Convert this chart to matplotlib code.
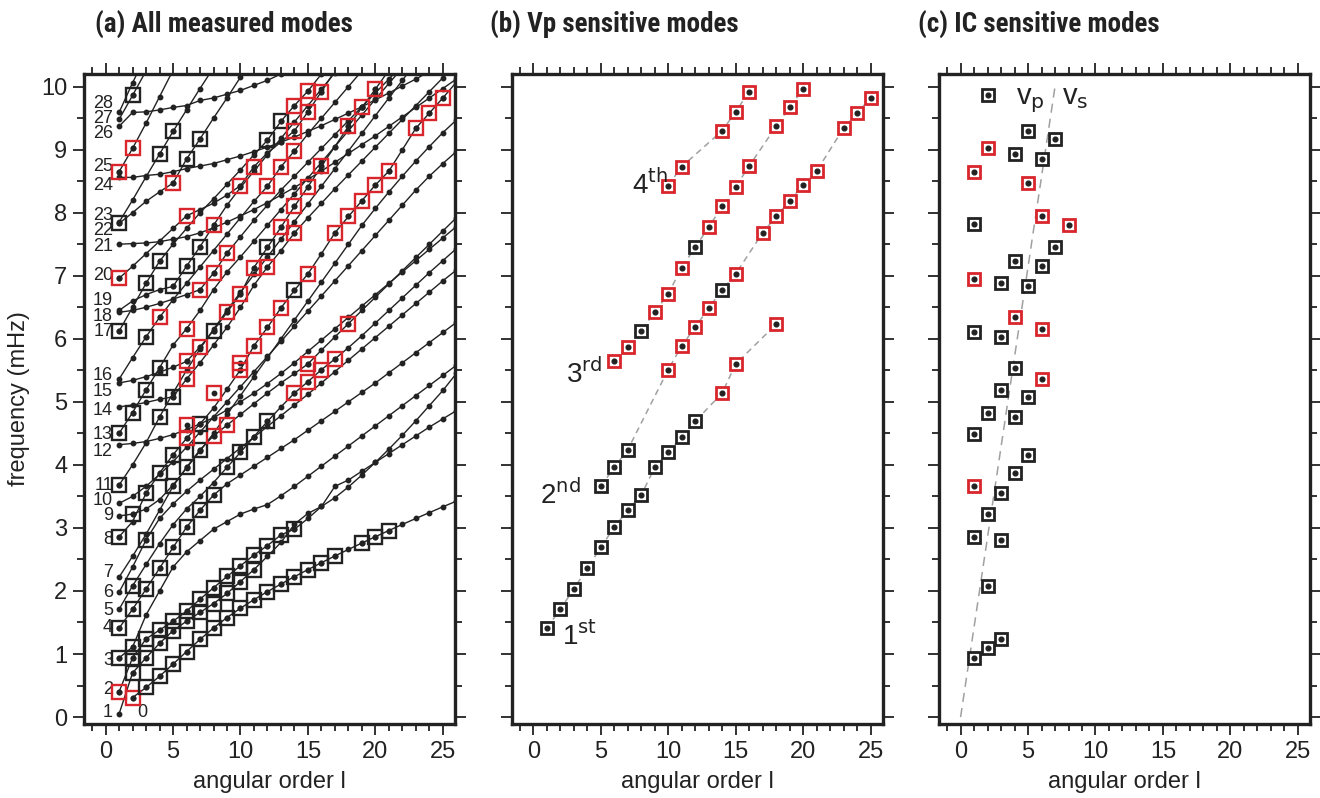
import matplotlib
matplotlib.use("Agg")
import matplotlib.pyplot as plt
from matplotlib.ticker import MultipleLocator

plt.rcParams['font.family'] = ['Liberation Sans', 'DejaVu Sans']

RED = '#d8262c'
BLK = '#222222'
GRAY = '#a0a0a0'

# ---- panel (a): mode branches (first l, then one frequency per l, mHz)
branch_l0 = [2] + [1] * 28
branch_f = [
    [0.309, 0.469, 0.647, 0.840, 1.038, 1.232, 1.413, 1.578, 1.727, 1.862, 1.990, 2.110, 2.227,
     2.339, 2.449, 2.555, 2.659, 2.761, 2.861, 2.959, 3.056, 3.150, 3.243, 3.335, 3.425],
    [0.05, 0.70, 0.94, 1.17, 1.37, 1.52, 1.66, 1.80, 1.96, 2.15, 2.34, 2.55, 2.77, 3.06, 3.23,
     3.34, 3.48, 3.65, 3.84, 4.04, 4.25, 4.47, 4.70, 4.94, 5.18, 5.45],
    [0.40, 0.94, 1.24, 1.38, 1.52, 1.68, 1.87, 2.05, 2.23, 2.40, 2.57, 2.72, 2.89, 2.98, 3.15,
     3.34, 3.66, 3.76, 3.90, 4.04, 4.18, 4.32, 4.46, 4.60, 4.73, 4.86],
    [0.94, 1.11, 1.62, 2.00, 2.38, 2.62, 2.80, 2.98, 3.10, 3.22, 3.30, 3.37, 3.51, 3.66, 3.82,
     3.98, 4.14, 4.30, 4.46, 4.62, 4.78, 4.94, 5.10, 5.26, 5.42, 5.58],
    [1.41, 1.71, 2.03, 2.36, 2.69, 3.01, 3.28, 3.52, 3.70, 3.84, 3.98, 4.12, 4.26, 4.40, 4.55,
     4.70, 4.85, 5.00, 5.15, 5.30, 5.46, 5.62, 5.78, 5.94, 6.10, 6.26],
    [1.71, 2.08, 2.42, 2.75, 3.05, 3.30, 3.50, 3.72, 3.96, 4.20, 4.45, 4.69, 4.92, 5.14, 5.32,
     5.51, 5.68, 5.86, 6.05, 6.25, 6.45, 6.65, 6.85, 7.05, 7.24, 7.43],
    [1.98, 2.38, 2.81, 3.15, 3.38, 3.58, 3.76, 3.93, 4.10, 4.27, 4.44, 4.61, 4.78, 4.95, 5.12,
     5.30, 5.48, 5.66, 5.84, 6.02, 6.20, 6.38, 6.56, 6.74, 6.92, 7.09],
    [2.22, 2.55, 2.90, 3.28, 3.66, 3.96, 4.24, 4.46, 4.63, 4.80, 4.97, 5.14, 5.30, 5.45, 5.60,
     5.82, 6.03, 6.24, 6.45, 6.66, 6.87, 7.08, 7.29, 7.50, 7.71, 7.92],
    [2.86, 3.10, 3.55, 3.87, 4.16, 4.42, 4.65, 4.90, 5.20, 5.51, 5.89, 6.18, 6.49, 6.77, 7.03,
     7.35, 7.68, 7.94, 8.19, 8.44, 8.66, 9.00, 9.34, 9.58, 9.82, 10.07],
    [3.19, 3.22, 3.30, 3.45, 3.68, 3.95, 4.22, 4.50, 4.80, 5.10, 5.40, 5.70, 6.00, 6.30, 6.60,
     6.90, 7.20, 7.50, 7.80, 8.07, 8.33, 8.58, 8.82, 9.05, 9.27, 9.47],
    [3.39, 3.50, 3.66, 3.85, 4.05, 4.28, 4.52, 4.76, 5.00, 5.24, 5.48, 5.72, 5.96, 6.20, 6.44,
     6.68, 6.92, 7.16, 7.40, 7.64, 7.88, 8.12, 8.36, 8.58, 8.78, 8.97],
    [3.68, 4.00, 4.35, 4.76, 5.14, 5.50, 5.84, 6.15, 6.45, 6.74, 7.02, 7.30, 7.58, 7.86, 8.14,
     8.42, 8.70, 8.98, 9.26, 9.54, 9.82, 10.10, 10.38],
    [4.32, 4.34, 4.37, 4.42, 4.48, 4.56, 4.65, 4.75, 4.87, 5.00, 5.14, 5.29, 5.45, 5.62, 5.80,
     5.98, 6.16, 6.34, 6.52, 6.70, 6.88, 7.06, 7.24, 7.42, 7.60, 7.78],
    [4.50, 4.83, 5.19, 5.54, 5.90, 6.16, 6.45, 6.78, 7.06, 7.30, 7.55, 7.80, 8.05, 8.30, 8.55,
     8.80, 9.05, 9.30, 9.55, 9.80, 10.05, 10.30],
    [4.92, 4.95, 4.99, 5.04, 5.08, 5.36, 5.62, 5.90, 6.18, 6.50, 6.85, 7.14, 7.40, 7.68, 7.92,
     8.15, 8.38, 8.60, 8.82, 9.04, 9.26, 9.48, 9.70, 9.92, 10.14, 10.36],
    [5.30, 5.34, 5.40, 5.47, 5.55, 5.64, 5.87, 6.13, 6.42, 6.71, 7.13, 7.45, 7.77, 8.10, 8.41,
     8.74, 9.05, 9.37, 9.67, 9.96, 10.26],
    [5.36, 5.70, 6.03, 6.34, 6.62, 6.88, 7.14, 7.40, 7.66, 7.92, 8.18, 8.42, 8.73, 8.98, 9.25,
     9.50, 9.75, 10.00, 10.25],
    [6.12, 6.50, 6.88, 7.23, 7.50, 7.75, 8.00, 8.22, 8.45, 8.68, 8.92, 9.15, 9.45, 9.70, 9.93,
     10.20],
    [6.42, 6.45, 6.50, 6.56, 6.63, 6.70, 6.78, 7.04, 7.36, 7.62, 7.88, 8.12, 8.36, 8.58, 8.80,
     9.02, 9.24, 9.46, 9.68, 9.90, 10.12, 10.34],
    [6.45, 6.60, 6.70, 6.78, 6.83, 7.15, 7.46, 7.80, 8.12, 8.40, 8.66, 8.92, 9.18, 9.44, 9.70,
     9.96, 10.22],
    [6.96, 7.15, 7.35, 7.55, 7.75, 7.95, 8.05, 8.15, 8.28, 8.43, 8.73, 8.95, 9.12, 9.30, 9.60,
     9.92, 10.25],
    [7.50, 7.51, 7.52, 7.54, 7.58, 7.62, 7.68, 7.76, 7.85, 7.95, 8.05, 8.16, 8.28, 8.40, 8.53,
     8.66, 8.80, 8.94, 9.08, 9.22, 9.37, 9.52, 9.67, 9.82, 9.97, 10.12],
    [7.83, 8.00, 8.18, 8.33, 8.47, 8.85, 9.17, 9.50, 9.82, 10.15, 10.45],
    [7.85, 8.20, 8.57, 8.93, 9.29, 9.63, 9.97, 10.30],
    [8.56, 8.56, 8.59, 8.61, 8.65, 8.70, 8.74, 8.78, 8.84, 8.90, 8.97, 9.04, 9.12, 9.20, 9.29,
     9.38, 9.48, 9.58, 9.68, 9.79, 9.90, 10.01, 10.12, 10.24],
    [8.65, 9.02, 9.42, 9.84, 10.26],
    [9.37, 9.59, 9.60, 9.63, 9.67, 9.70, 9.78, 9.82, 9.88, 9.94, 10.02, 10.10, 10.20, 10.30],
    [9.48, 9.86, 10.25],
    [9.59, 10.06, 10.50],
]

# measured modes in (a): l, frequency, red flag
meas_l = [2, 3, 4, 5, 6, 7, 8, 9, 10, 11, 12, 13, 14, 15, 16, 17, 19, 20, 21,
          1, 2, 3, 4, 5, 6, 7, 8, 9, 10, 11,
          2, 3, 4, 5, 6, 7, 8, 9, 10, 11, 12, 13, 14,
          1, 2,
          1, 2, 3, 4, 5, 6, 7, 8,
          2, 9, 10, 11, 12, 14, 15, 16, 17,
          3, 5, 6, 7, 8, 9, 15, 18,
          1, 3, 4, 5, 6, 7, 10, 11, 12, 13, 14, 15, 17, 18, 19, 20, 21, 23, 24, 25,
          2, 1, 1, 2, 3, 4, 4, 5, 6, 6, 8, 1, 3, 4, 6, 7, 1, 3, 5, 4, 6, 7, 8, 6, 8, 9,
          12, 14, 1, 5, 1, 6, 4, 2, 7, 5, 2, 12, 13, 14, 12, 13, 14, 15, 10,
          6, 7, 8, 9, 10, 11, 12, 13, 14, 15, 16, 18, 19, 20,
          10, 11, 14, 15, 16]
meas_f = [0.309, 0.469, 0.647, 0.840, 1.038, 1.232, 1.413, 1.578, 1.727, 1.862, 1.990, 2.110,
          2.227, 2.339, 2.449, 2.555, 2.761, 2.861, 2.959,
          0.40, 0.70, 0.94, 1.17, 1.37, 1.52, 1.66, 1.80, 1.96, 2.15, 2.34,
          0.94, 1.24, 1.38, 1.52, 1.68, 1.87, 2.05, 2.23, 2.40, 2.57, 2.72, 2.89, 2.98,
          0.94, 1.11,
          1.41, 1.71, 2.03, 2.36, 2.69, 3.01, 3.28, 3.52,
          2.08, 3.96, 4.20, 4.45, 4.69, 5.14, 5.32, 5.51, 5.68,
          2.81, 3.66, 3.96, 4.24, 4.46, 4.63, 5.60, 6.24,
          2.86, 3.55, 3.87, 4.16, 4.42, 4.65, 5.51, 5.89, 6.18, 6.49, 6.77, 7.03, 7.68, 7.94,
          8.19, 8.44, 8.66, 9.34, 9.58, 9.82,
          3.22, 3.68, 4.50, 4.83, 5.19, 5.54, 4.76, 5.08, 5.36, 4.63, 5.14, 6.12, 6.03, 6.34,
          6.16, 6.78, 6.96, 6.88, 6.83, 7.23, 7.15, 7.46, 7.80, 7.95, 7.04, 7.36,
          7.14, 7.68, 7.83, 8.47, 8.65, 8.85, 8.93, 9.02, 9.17, 9.29, 9.86, 8.42, 8.73, 8.98,
          9.15, 9.45, 9.70, 9.93, 5.61,
          5.64, 5.87, 6.13, 6.42, 6.71, 7.13, 7.45, 7.77, 8.10, 8.41, 8.74, 9.37, 9.67, 9.96,
          8.43, 8.73, 9.30, 9.60, 9.92]
meas_red = ([1] + [0] * 18 +
            [1] + [0] * 10 +
            [0] * 13 +
            [0, 0] +
            [0] * 8 +
            [0, 0, 0, 0, 0, 1, 1, 1, 1] +
            [0, 0, 0, 0, 1, 1, 1, 1] +
            [0, 0, 0, 0, 1, 0, 1, 1, 1, 1, 0, 1, 1, 1, 1, 1, 1, 1, 1, 1] +
            [0, 0, 0, 0, 0, 0, 0, 0, 1, 1, 1, 0, 0, 1, 1, 1, 1, 0, 0, 0, 0, 0, 1, 1, 1, 1,
             1, 1, 0, 1, 1, 0, 0, 1, 0, 0, 0, 1, 1, 1, 0, 0, 1, 1, 1] +
            [1, 1, 0, 1, 1, 1, 0, 1, 1, 1, 1, 1, 1, 1] +
            [1, 1, 1, 1, 1])

# overtone labels in (a)
ov_text = [str(n) for n in range(29)]
ov_f = [0.07, 0.08, 0.43, 0.89, 1.42, 1.69, 1.97, 2.29, 2.81, 3.19, 3.43, 3.68, 4.22, 4.48, 4.86,
        5.17, 5.41, 6.12, 6.36, 6.60, 7.00, 7.47, 7.71, 7.95, 8.43, 8.73, 9.25, 9.50, 9.74]

# ---- panel (b): Vp sensitive branches
vp_l = [
    [1, 2, 3, 4, 5, 6, 7, 8, 9, 10, 11, 12, 14, 15, 18],
    [5, 6, 7, 10, 11, 12, 13, 14, 15, 17, 18, 19, 20, 21, 23, 24, 25],
    [6, 7, 8, 9, 10, 11, 12, 13, 14, 15, 16, 18, 19, 20],
    [10, 11, 14, 15, 16],
]
vp_f = [
    [1.41, 1.71, 2.03, 2.36, 2.69, 3.01, 3.28, 3.52, 3.96, 4.20, 4.45, 4.69, 5.14, 5.60, 6.23],
    [3.66, 3.96, 4.24, 5.51, 5.89, 6.18, 6.49, 6.77, 7.03, 7.68, 7.94, 8.19, 8.44, 8.66, 9.34,
     9.58, 9.82],
    [5.64, 5.87, 6.13, 6.42, 6.71, 7.13, 7.45, 7.77, 8.10, 8.41, 8.74, 9.37, 9.67, 9.96],
    [8.43, 8.73, 9.30, 9.60, 9.92],
]
vp_red = [
    [0] * 12 + [1, 1, 1],
    [0, 0, 0, 1, 1, 1, 1, 0, 1, 1, 1, 1, 1, 1, 1, 1, 1],
    [1, 1, 0, 1, 1, 1, 0, 1, 1, 1, 1, 1, 1, 1],
    [1, 1, 1, 1, 1],
]
vp_names = ['1', '2', '3', '4']
vp_sup = ['st', 'nd', 'rd', 'th']
vp_lab_l = [2.1, 0.5, 2.4, 7.3]
vp_lab_f = [1.28, 3.52, 5.44, 8.44]

# ---- panel (c): IC sensitive modes
ic_l = [2, 5, 7, 2, 4, 6, 1, 5, 6, 1, 8, 7, 4, 6, 1, 3, 5, 4, 6, 1, 3, 4, 6, 3, 5,
        2, 4, 1, 5, 4, 1, 3, 2, 1, 3, 2, 3, 2, 1]
ic_f = [9.86, 9.29, 9.17, 9.02, 8.93, 8.85, 8.65, 8.47, 7.95, 7.82, 7.80, 7.46, 7.23, 7.15,
        6.95, 6.88, 6.83, 6.34, 6.16, 6.11, 6.03, 5.54, 5.36, 5.19, 5.08, 4.83, 4.76, 4.49,
        4.16, 3.87, 3.67, 3.55, 3.22, 2.86, 2.81, 2.08, 1.24, 1.10, 0.94]
ic_red = [0, 0, 0, 1, 0, 0, 1, 1, 1, 0, 1, 0, 0, 0, 1, 0, 0, 1, 1, 0, 0, 0, 1, 0, 0,
          0, 0, 0, 0, 0, 1, 0, 0, 0, 0, 0, 0, 0, 0]
ic_line_l = [0, 7]
ic_line_f = [0, 10]

titles = ['(a) All measured modes', '(b) Vp sensitive modes', '(c) IC sensitive modes']
title_x = [95, 490, 918]


def style_axes(ax, left_labels):
    ax.set_xlim(-1.6, 25.9)
    ax.set_ylim(-0.11, 10.2)
    ax.xaxis.set_major_locator(MultipleLocator(5))
    ax.xaxis.set_minor_locator(MultipleLocator(1))
    ax.yaxis.set_major_locator(MultipleLocator(1))
    ax.yaxis.set_minor_locator(MultipleLocator(0.5))
    ax.tick_params(which='both', direction='out', top=True, right=True, width=1.3,
                   labelsize=17, colors=BLK)
    ax.tick_params(which='major', length=8, pad=4)
    ax.tick_params(which='minor', length=5)
    ax.tick_params(labelleft=left_labels)
    for s in ax.spines.values():
        s.set_linewidth(2.4)
        s.set_color(BLK)
    ax.set_xlabel('angular order l', fontsize=17, labelpad=6, color=BLK)


fig = plt.figure(figsize=(13.2, 7.98), dpi=100)
lefts = [84 / 1320, 511.7 / 1320, 939 / 1320]
axs = [fig.add_axes([x0, 1 - 724 / 798, 371 / 1320, 650 / 798]) for x0 in lefts]

# (a)
ax = axs[0]
for l0, fs in zip(branch_l0, branch_f):
    ls = list(range(l0, l0 + len(fs)))
    ax.plot(ls, fs, '-', color=BLK, lw=1.0, zorder=2)
    ax.plot(ls, fs, 'o', color=BLK, ms=3.2, zorder=3)
for l, f, r in zip(meas_l, meas_f, meas_red):
    ax.plot(l, f, 's', mfc='none', mec=RED if r else BLK, ms=9.5, mew=1.7, zorder=4)
    ax.plot(l, f, 'o', color=BLK, ms=3.2, zorder=3)
for t, f in zip(ov_text, ov_f):
    if t == '0':
        ax.text(2.7, f, t, fontsize=13, ha='center', va='center', color=BLK)
    else:
        ax.text(0.55, f, t, fontsize=13, ha='right', va='center', color=BLK)
ax.set_ylabel('frequency (mHz)', fontsize=17, labelpad=8, color=BLK)
style_axes(ax, True)

# (b)
ax = axs[1]
for ls, fs, rs in zip(vp_l, vp_f, vp_red):
    ax.plot(ls, fs, '--', color=GRAY, lw=1.1, dashes=(4, 3), zorder=2)
    for l, f, r in zip(ls, fs, rs):
        ax.plot(l, f, 's', mfc='white', mec=RED if r else BLK, ms=9, mew=2.0, zorder=3)
        ax.plot(l, f, 'o', color=BLK, ms=3.4, zorder=4)
for n, s, x, y in zip(vp_names, vp_sup, vp_lab_l, vp_lab_f):
    ax.text(x, y, n + r'$^{\mathrm{' + s + '}}$', fontsize=20, ha='left', va='center', color=BLK)
style_axes(ax, False)

# (c)
ax = axs[2]
ax.plot(ic_line_l, ic_line_f, '--', color=GRAY, lw=1.1, dashes=(6, 4), zorder=2)
for l, f, r in zip(ic_l, ic_f, ic_red):
    ax.plot(l, f, 's', mfc='white', mec=RED if r else BLK, ms=9, mew=2.0, zorder=3)
    ax.plot(l, f, 'o', color=BLK, ms=3.4, zorder=4)
ax.text(6.2, 9.72, r'v$_\mathrm{p}$', fontsize=21, ha='right', va='baseline', color=BLK)
ax.text(7.5, 9.72, r'v$_\mathrm{s}$', fontsize=21, ha='left', va='baseline', color=BLK)
style_axes(ax, False)

for x0, t in zip(title_x, titles):
    fig.text(x0 / 1320, 1 - 25 / 798, t, fontsize=19.5, fontweight='bold', color=BLK,
             ha='left', va='center',
             family=['Roboto Condensed', 'Liberation Sans Narrow', 'Liberation Sans'])

fig.savefig('out.png', dpi=100)
